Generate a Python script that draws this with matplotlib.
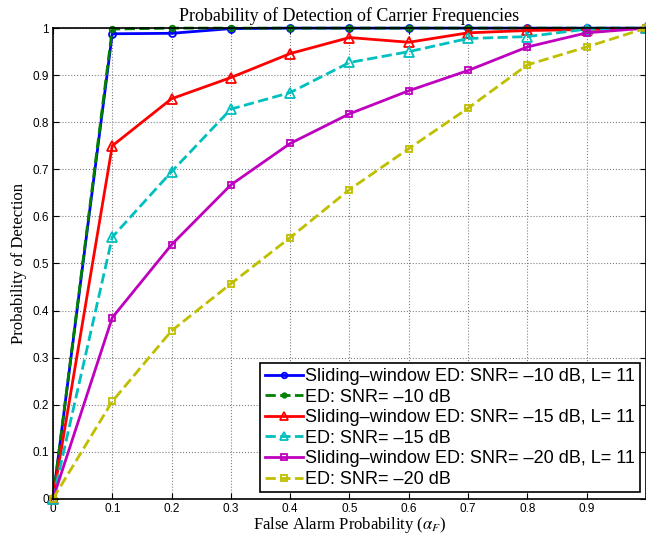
import numpy as np
import matplotlib
matplotlib.use("Agg")
import matplotlib.pyplot as plt

# data
false_alarm = [0, 0.1, 0.2, 0.3, 0.4, 0.5, 0.6, 0.7, 0.8, 0.9, 1.0]
sw_snr10 = [0, 0.988, 0.989, 0.999, 1, 1, 1, 1, 1, 1, 1]
ed_snr10 = [0, 0.998, 1, 1, 1, 1, 1, 1, 1, 1, 1]
sw_snr15 = [0, 0.75, 0.85, 0.895, 0.946, 0.98, 0.97, 0.99, 0.995, 0.997, 1]
ed_snr15 = [0, 0.556, 0.695, 0.828, 0.863, 0.927, 0.95, 0.978, 0.982, 0.998, 1]
sw_snr20 = [0, 0.385, 0.54, 0.667, 0.755, 0.818, 0.867, 0.91, 0.96, 0.99, 1]
ed_snr20 = [0, 0.207, 0.357, 0.457, 0.555, 0.657, 0.744, 0.83, 0.922, 0.96, 1]

labels = [
    "Sliding\u2013window ED: SNR= \u201310 dB, L= 11",
    "ED: SNR= \u201310 dB",
    "Sliding\u2013window ED: SNR= \u201315 dB, L= 11",
    "ED: SNR= \u201315 dB",
    "Sliding\u2013window ED: SNR= \u201320 dB, L= 11",
    "ED: SNR= \u201320 dB",
]
xtick_labels = ["0", "0.1", "0.2", "0.3", "0.4", "0.5", "0.6", "0.7", "0.8", "0.9"]
ytick_labels = ["0", "0.1", "0.2", "0.3", "0.4", "0.5", "0.6", "0.7", "0.8", "0.9", "1"]

plt.rcParams['mathtext.fontset'] = 'stix'
serif = 'Liberation Serif'
sans = 'Liberation Sans'

fig = plt.figure(figsize=(6.46, 5.41), dpi=100)
ax = fig.add_axes([0.082, 0.078, 0.918, 0.870])

series = [
    (sw_snr10, 'b', '-', 'o', 5),
    (ed_snr10, (0, 0.5, 0), '--', 'o', 4),
    (sw_snr15, 'r', '-', '^', 7),
    (ed_snr15, (0, 0.75, 0.75), '--', '^', 7),
    (sw_snr20, (0.75, 0, 0.75), '-', 's', 5),
    (ed_snr20, (0.75, 0.75, 0), '--', 's', 5),
]
for (y, c, ls, m, ms), lab in zip(series, labels):
    ax.plot(false_alarm, y, color=c, linestyle=ls, marker=m, markersize=ms,
            markerfacecolor='none', markeredgecolor=c, markeredgewidth=1.3,
            linewidth=2, label=lab, clip_on=False)

ax.set_xlim(0, 1)
ax.set_ylim(0, 1)
ax.set_xticks(np.arange(0, 1.0, 0.1))
ax.set_xticklabels(xtick_labels)
ax.set_yticks(np.arange(0, 1.01, 0.1))
ax.set_yticklabels(ytick_labels)
ax.tick_params(direction='in', length=4, labelsize=8.5, top=True, right=True, pad=3)
for t in ax.get_xticklabels() + ax.get_yticklabels():
    t.set_family(sans)
ax.grid(True, linestyle=':', color='0.5', linewidth=0.8)
for s in ax.spines.values():
    s.set_linewidth(1.2)

ax.set_title("Probability of Detection of Carrier Frequencies",
             family=serif, fontsize=13, pad=5)
ax.set_xlabel(r"False Alarm Probability ($\alpha_F$)", family=serif,
              fontsize=12, labelpad=0)
ax.set_ylabel("Probability of Detection", family=serif, fontsize=12, labelpad=4)

leg = ax.legend(loc='lower right', prop={'family': sans, 'size': 13},
                fancybox=False, edgecolor='k', framealpha=1,
                handlelength=2.1, handletextpad=0.15, borderpad=0.25,
                labelspacing=0.2, borderaxespad=0.35, markerscale=0.8)
leg.get_frame().set_linewidth(1.2)

fig.savefig("out.png", dpi=100)
